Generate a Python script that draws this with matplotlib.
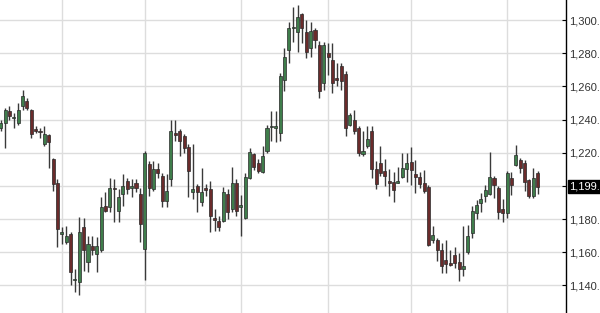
import matplotlib
matplotlib.use("Agg")
import matplotlib.pyplot as plt
import numpy as np

opens = [1235, 1238, 1245, 1241, 1238, 1248, 1251, 1246, 1234, 1233,
         1225, 1230.5, 1216, 1202, 1171, 1166, 1171, 1143, 1142, 1175,
         1154, 1164, 1159, 1161, 1188, 1187, 1199, 1185, 1195, 1203,
         1199, 1202, 1195, 1162, 1213, 1198, 1210, 1206, 1191, 1204,
         1232, 1233, 1230, 1223.5, 1196.5, 1200, 1190, 1199, 1198, 1180.5,
         1179, 1178.5, 1195, 1186, 1202, 1187.5, 1180.5, 1205, 1219, 1214,
         1208.6, 1221, 1235.5, 1235, 1232, 1264, 1282, 1295, 1293, 1303.5,
         1293, 1283, 1294, 1285, 1262, 1280, 1276, 1265, 1272, 1267.5,
         1237, 1240, 1235, 1219, 1224, 1233, 1210, 1214, 1209, 1202.6,
         1202.6, 1202, 1205.6, 1210, 1214.6, 1207.2, 1205.6, 1202, 1199.6, 1167.5,
         1167.5, 1161.5, 1155, 1153.4, 1158.4, 1154, 1149.8, 1160, 1171.5, 1183.6,
         1189.6, 1193.6, 1195, 1204.6, 1198.6, 1186, 1183.6, 1204.6, 1212.7, 1215.7,
         1213.7, 1203.6, 1193.6, 1207.6]
highs = [1240, 1247, 1248, 1244, 1250, 1258, 1253, 1246.5, 1236, 1235,
         1236, 1231, 1217, 1204, 1175, 1176, 1172, 1150, 1181, 1180.5,
         1170, 1170, 1169, 1193, 1196, 1205, 1204, 1198, 1207, 1205,
         1204, 1204, 1199, 1221, 1215, 1215, 1214, 1208, 1207, 1240,
         1240, 1234, 1231, 1225, 1225, 1201, 1211, 1201, 1203, 1186,
         1182, 1199.5, 1198, 1211.5, 1204, 1194.5, 1208, 1223, 1220, 1216,
         1224, 1237, 1245, 1245, 1268, 1283, 1299, 1308, 1309, 1304,
         1300, 1299, 1295, 1287.5, 1287, 1286, 1286, 1274, 1274, 1269,
         1244, 1246, 1236, 1233, 1236, 1236, 1215, 1224, 1216, 1210,
         1208.6, 1211.6, 1220, 1219.7, 1223.3, 1215.7, 1208.6, 1209.6, 1200.6, 1175.5,
         1168.5, 1165.5, 1167.5, 1161.5, 1163.4, 1159.5, 1175.5, 1176.5, 1188, 1191.6,
         1195.6, 1200.6, 1220.7, 1206, 1200, 1192, 1209, 1208.6, 1224.7, 1216.7,
         1215.7, 1204, 1210.7, 1209.2]
lows = [1233, 1223, 1240, 1235, 1237, 1246, 1246, 1229, 1232, 1229,
        1224, 1211, 1197, 1163, 1165, 1165, 1140, 1136, 1134, 1148.5,
        1148, 1158, 1148, 1160, 1184, 1184, 1178, 1178, 1188, 1195,
        1193, 1196, 1166, 1143, 1194, 1197, 1205, 1187, 1187, 1200,
        1227, 1218, 1220, 1193, 1192, 1184, 1188, 1194, 1172, 1173,
        1173, 1178, 1180, 1184, 1182, 1169.5, 1180, 1204, 1209.5, 1207.5,
        1208, 1220, 1227, 1226.5, 1227, 1257, 1274, 1287, 1281, 1286,
        1277, 1278, 1283, 1253, 1258, 1267, 1256, 1260, 1258, 1230,
        1236, 1231, 1218, 1218, 1223, 1205, 1198, 1206, 1200, 1194,
        1190.5, 1201.6, 1205, 1202.6, 1200.6, 1195.6, 1199, 1195.6, 1163.5, 1165.5,
        1154.4, 1147.4, 1147.4, 1151.4, 1150.4, 1142.4, 1145.4, 1159, 1168.5, 1180,
        1184.5, 1190, 1194.5, 1192.6, 1180, 1178, 1180.7, 1194.6, 1212, 1207.6,
        1196.6, 1192.6, 1192.6, 1195]
closes = [1238, 1246, 1242, 1241.5, 1246, 1254, 1247, 1231, 1233, 1232.5,
          1231, 1226.5, 1201, 1174, 1172, 1170, 1148, 1144, 1172, 1161.5,
          1165, 1161, 1164, 1187, 1185, 1199, 1198, 1193, 1200, 1198,
          1199.5, 1199, 1177, 1220, 1199, 1210, 1208, 1191, 1197, 1233,
          1230.5, 1227, 1223, 1209, 1198, 1196, 1196, 1197.5, 1182, 1179.5,
          1175, 1196.5, 1184, 1202, 1185, 1188, 1205.5, 1220.5, 1211.5, 1209,
          1218, 1235, 1236, 1235.5, 1266, 1278, 1295.5, 1295.5, 1302, 1295,
          1281, 1293.5, 1288, 1257, 1285, 1278, 1262, 1264, 1263, 1235,
          1243, 1233, 1220, 1221, 1228, 1210, 1201, 1208, 1206, 1202,
          1197.6, 1202.4, 1210.7, 1214, 1209.6, 1205.2, 1201.2, 1197, 1164.5, 1170.5,
          1161.5, 1151.4, 1153, 1152.4, 1153.4, 1149.6, 1151.8, 1170, 1185, 1188.6,
          1192, 1197.6, 1205.6, 1200.6, 1184.5, 1183.6, 1208, 1200.6, 1218.7, 1210.7,
          1202.6, 1193.6, 1204.6, 1199.5]

y_ticks = [1140, 1160, 1180, 1200, 1220, 1240, 1260, 1280, 1300]
month_starts = [14, 33, 55, 75, 94, 116]
last_price_label = "1,199.5"

UP = "#3f7d4b"
DOWN = "#6a2b2b"
WICK = "#3a3a3a"

fig = plt.figure(figsize=(6.0, 3.13), dpi=100)
ax = fig.add_axes([0, 0, 566 / 600, 1])
ax.set_facecolor("white")

o = np.array(opens)
h = np.array(highs)
l = np.array(lows)
c = np.array(closes)
x = np.arange(len(o))

for xv in month_starts:
    ax.axvline(xv, color="#dddddd", lw=1.0, zorder=0)
for yv in y_ticks:
    ax.axhline(yv, color="#dddddd", lw=1.0, zorder=0)

ax.vlines(x, l, h, color=WICK, lw=1.0, zorder=2)
up = c >= o
colors = np.where(up, UP, DOWN)
bottoms = np.minimum(o, c)
heights = np.maximum(np.abs(c - o), 0.8)
ax.bar(x, heights, bottom=bottoms, width=0.7, color=colors,
       edgecolor="#2a2a2a", linewidth=0.5, zorder=3)

ax.set_xlim(-0.16, 129.5)
ax.set_ylim(1123.3, 1312.1)

for s in ["left", "top", "bottom"]:
    ax.spines[s].set_visible(False)
ax.spines["right"].set_color("black")
ax.spines["right"].set_linewidth(1.0)
ax.set_xticks([])
ax.yaxis.tick_right()
ax.set_yticks(y_ticks)
ax.set_yticklabels([f"{v:,.1f}" for v in y_ticks])
ax.tick_params(axis="y", direction="in", length=3, pad=2,
               labelsize=8, labelcolor="#333333", color="black")
for t in ax.get_yticklabels():
    t.set_fontfamily("Liberation Sans")

ax.annotate(last_price_label, xy=(1, closes[-1]), xycoords=("axes fraction", "data"),
            xytext=(2.5, 0), textcoords="offset points", ha="left", va="center",
            fontsize=8, color="white", family="Liberation Sans",
            bbox=dict(boxstyle="square,pad=0.15", fc="black", ec="black"),
            annotation_clip=False)

fig.savefig("out.png", dpi=100)
